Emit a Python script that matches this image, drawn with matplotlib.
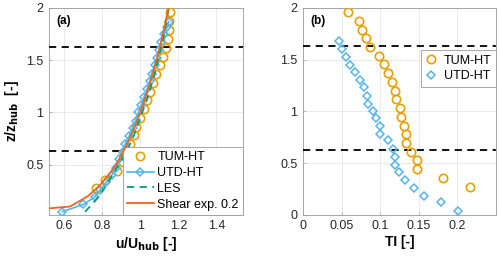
import matplotlib
matplotlib.use("Agg")
import matplotlib.pyplot as plt

# (a) mean velocity profiles, u/U_hub vs z/z_hub
tum_z = [1.96, 1.876, 1.79, 1.707, 1.62, 1.535, 1.454, 1.369, 1.285, 1.2, 1.119,
         1.034, 0.946, 0.862, 0.78, 0.696, 0.608, 0.527, 0.442, 0.358, 0.273]
tum_u = [1.158, 1.149, 1.149, 1.144, 1.135, 1.117, 1.105, 1.085, 1.065, 1.053, 1.035,
         1.017, 1.0, 0.975, 0.965, 0.945, 0.915, 0.91, 0.88, 0.812, 0.767]

utd_z = [0.05, 0.12, 0.19, 0.26, 0.33, 0.40, 0.47, 0.55, 0.62, 0.70, 0.77, 0.85, 0.92,
         1.00, 1.07, 1.15, 1.22, 1.30, 1.37, 1.45, 1.52, 1.60, 1.67, 1.75, 1.82, 1.87]
utd_u = [0.59, 0.70, 0.76, 0.79, 0.82, 0.85, 0.87, 0.89, 0.91, 0.92, 0.94, 0.96, 0.975,
         0.99, 1.005, 1.02, 1.035, 1.05, 1.06, 1.075, 1.09, 1.10, 1.11, 1.125, 1.14, 1.15]

les_z = [0.05, 0.15, 0.3, 0.45, 0.6, 0.75, 0.95, 1.15, 1.4, 1.7, 2.0]
les_u = [0.71, 0.76, 0.82, 0.87, 0.92, 0.96, 1.0, 1.04, 1.08, 1.12, 1.15]

shear_z = [0.0, 0.1, 0.2, 0.3, 0.4, 0.5, 0.6, 0.7, 0.8, 0.9, 1.0,
           1.1, 1.2, 1.3, 1.4, 1.5, 1.6, 1.7, 1.8, 1.9, 2.0]
shear_u = [0.0, 0.631, 0.725, 0.786, 0.833, 0.871, 0.903, 0.931, 0.956, 0.979, 1.0,
           1.019, 1.037, 1.054, 1.07, 1.084, 1.099, 1.112, 1.125, 1.137, 1.149]

# (b) turbulence intensity profiles
tum_ti_z = tum_z
tum_ti = [0.0577, 0.0723, 0.076, 0.081, 0.087, 0.098, 0.1045, 0.1105, 0.115, 0.119, 0.121,
          0.125, 0.127, 0.131, 0.134, 0.134, 0.14, 0.148, 0.148, 0.1815, 0.216]
utd_ti_z = [1.68, 1.6, 1.525, 1.45, 1.376, 1.304, 1.236, 1.151, 1.076, 1.002, 0.937, 0.859,
            0.784, 0.719, 0.634, 0.563, 0.481, 0.413, 0.335, 0.257, 0.185, 0.12, 0.04]
utd_ti = [0.0465, 0.0508, 0.056, 0.061, 0.067, 0.074, 0.0787, 0.0835, 0.0848, 0.0903, 0.094,
          0.0998, 0.0998, 0.1097, 0.117, 0.119, 0.119, 0.1247, 0.1325, 0.144, 0.157, 0.179, 0.201]

rotor_limits = [0.63, 1.63]

c_tum = "#E69F00"
c_utd = "#56B4E9"
c_les = "#009E73"
c_shear = "#F0641E"

plt.rcParams["font.family"] = "Liberation Sans"
plt.rcParams["font.size"] = 9

fig = plt.figure(figsize=(5, 2.64), dpi=100)
ax1 = fig.add_axes([0.098, 0.186, 0.388, 0.784])
ax2 = fig.add_axes([0.606, 0.186, 0.386, 0.784])


def style_axes(ax):
    ax.grid(True, color="#e6e6e6", lw=0.6)
    ax.set_axisbelow(True)
    for s in ax.spines.values():
        s.set_color("#9a9a9a")
        s.set_linewidth(0.6)
    ax.tick_params(direction="in", length=2, width=0.5, colors="#9a9a9a",
                   labelcolor="#262626", labelsize=9, pad=4)


# Panel (a)
for z in rotor_limits:
    ax1.axhline(z, color="k", lw=1.3, ls=(0, (4, 3)), zorder=3)
ax1.plot(tum_u, tum_z, ls="none", marker="o", ms=6, mfc="none", mec=c_tum, mew=1.2,
         label="TUM-HT", zorder=4)
ax1.plot(utd_u, utd_z, color=c_utd, lw=1.2, marker="D", ms=4.5, mfc="none", mec=c_utd,
         mew=1.1, label="UTD-HT", zorder=4)
ax1.plot(les_u, les_z, color=c_les, lw=1.3, ls=(0, (4, 3)), label="LES", zorder=5)
ax1.plot(shear_u, shear_z, color=c_shear, lw=1.3, label="Shear exp. 0.2", zorder=6)
ax1.set_xlim(0.52, 1.54)
ax1.set_ylim(0.02, 2.0)
ax1.set_xticks([0.6, 0.8, 1.0, 1.2, 1.4])
ax1.set_xticklabels(["0.6", "0.8", "1", "1.2", "1.4"])
ax1.set_yticks([0.5, 1.0, 1.5, 2.0])
ax1.set_yticklabels(["0.5", "1", "1.5", "2"])
style_axes(ax1)
ax1.set_xlabel(r"u/U$_{\mathbf{hub}}$ [-]", fontsize=10, fontweight="bold", labelpad=2)
ax1.set_ylabel(r"z/z$_{\mathbf{hub}}$  [-]", fontsize=10, fontweight="bold", labelpad=4)
ax1.text(0.04, 0.965, "(a)", transform=ax1.transAxes, fontsize=8.5, fontweight="bold",
         va="top", ha="left")
leg1 = ax1.legend(loc="lower right", borderaxespad=0, frameon=True, fancybox=False,
                  fontsize=9, handlelength=2.1, handletextpad=0.3, labelspacing=0.3,
                  borderpad=0.35)
leg1.get_frame().set_edgecolor("#9a9a9a")
leg1.get_frame().set_linewidth(0.6)
leg1.get_frame().set_alpha(1)

# Panel (b)
for z in rotor_limits:
    ax2.axhline(z, color="k", lw=1.3, ls=(0, (4, 3)), zorder=3)
ax2.plot(tum_ti, tum_ti_z, ls="none", marker="o", ms=6, mfc="none", mec=c_tum, mew=1.2,
         label="TUM-HT", zorder=4)
ax2.plot(utd_ti, utd_ti_z, ls="none", marker="D", ms=4.5, mfc="none", mec=c_utd, mew=1.1,
         label="UTD-HT", zorder=4)
ax2.set_xlim(0, 0.25)
ax2.set_ylim(0, 2.0)
ax2.set_xticks([0, 0.05, 0.1, 0.15, 0.2])
ax2.set_xticklabels(["0", "0.05", "0.1", "0.15", "0.2"])
ax2.set_yticks([0, 0.5, 1.0, 1.5, 2.0])
ax2.set_yticklabels(["0", "0.5", "1", "1.5", "2"])
style_axes(ax2)
ax2.set_xlabel("TI [-]", fontsize=10, fontweight="bold", labelpad=2)
ax2.text(0.04, 0.965, "(b)", transform=ax2.transAxes, fontsize=8.5, fontweight="bold",
         va="top", ha="left")
leg2 = ax2.legend(loc="upper right", bbox_to_anchor=(1.0, 0.795), borderaxespad=0,
                  frameon=True, fancybox=False, fontsize=9, handlelength=1.0,
                  handletextpad=0.5, labelspacing=0.3, borderpad=0.35)
leg2.get_frame().set_edgecolor("#9a9a9a")
leg2.get_frame().set_linewidth(0.6)
leg2.get_frame().set_alpha(1)

fig.savefig("out.png", dpi=100)
